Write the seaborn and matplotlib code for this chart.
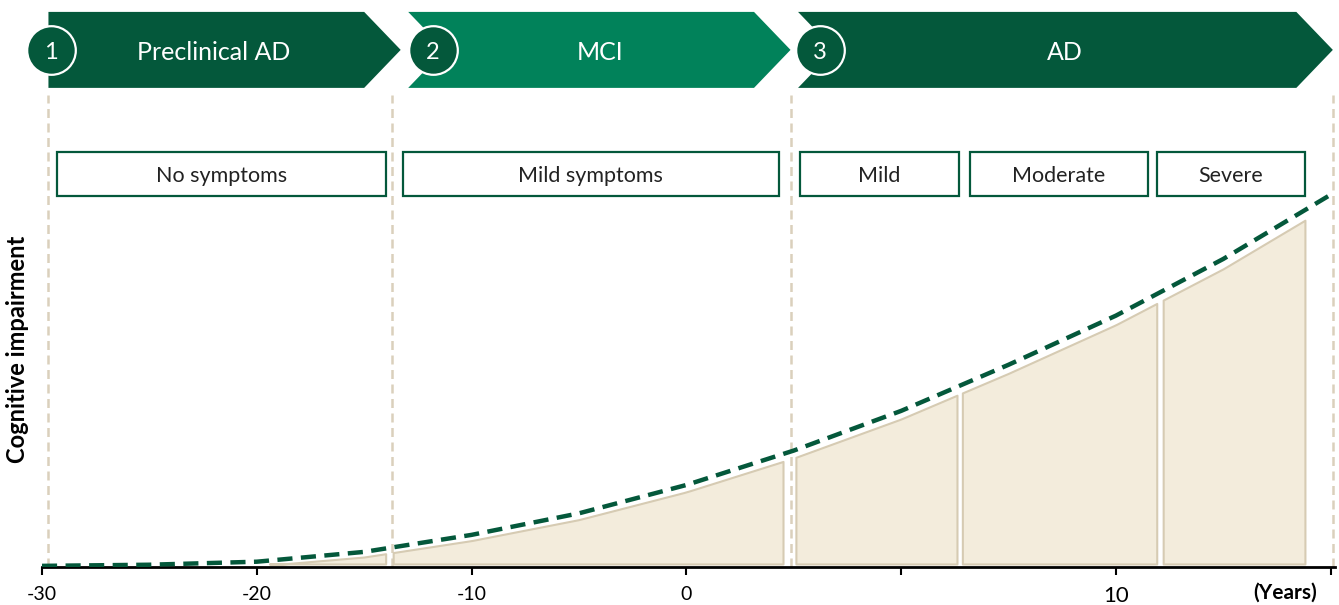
import numpy as np
import matplotlib.pyplot as plt
import seaborn as sns
from matplotlib.patches import Polygon, Rectangle

# curve (years vs. impairment, arbitrary units)
years = [-30, -25, -20, -15, -10, -5, 0, 5, 10, 15, 20, 25, 30]
impairment = [0.3, 0.6, 1.4, 4.0, 8.5, 14.2, 21.7, 30.8, 41.3, 53.5, 66.5, 81.5, 98.5]

# shaded segments under the curve
seg_left = [-19.4, -13.65, 5.1, 12.85, 22.2]
seg_right = [-14.0, 4.5, 12.6, 21.9, 28.8]

# stages (chevrons on top)
stage_names = ["Preclinical AD", "MCI", "AD"]
stage_nums = ["1", "2", "3"]
stage_start = [-29.7, -12.95, 5.2]
stage_end = [-13.3, 4.85, 30.1]
circle_x = [-29.6, -11.8, 6.2]

# symptom boxes
symptom_labels = ["No symptoms", "Mild symptoms", "Mild", "Moderate", "Severe"]
box_left = [-29.3, -13.2, 5.3, 13.2, 21.9]
box_right = [-14.0, 4.3, 12.7, 21.5, 28.8]

# vertical separators
vlines_x = [-29.7, -13.7, 4.85, 30.1]

xticks = [-30, -20, -10, 0, 10, 20, 30]
xtick_labels = ["-30", "-20", "-10", "0", "", "10", ""]

dark = "#04583B"
mid = "#01825A"
fill_c = "#F3ECDC"
edge_c = "#D6CBB3"
sep_c = "#DAD0BC"

sns.set_theme(style="ticks")
plt.rcParams['font.family'] = ['Lato', 'DejaVu Sans']

fig = plt.figure(figsize=(13.39, 6.05), dpi=100)
ax = fig.add_axes([42 / 1339, 38 / 605, 1293 / 1339, 567 / 605])
trans = ax.get_xaxis_transform()

# shaded areas under the curve, kept a little below the dashed line
slope = np.gradient(impairment, years)
for l, r in zip(seg_left, seg_right):
    xs = np.linspace(l, r, 60)
    gap = 1.0 + 0.5 * np.interp(xs, years, slope)
    top = np.clip(np.interp(xs, years, impairment) - gap, 0.8, None)
    ax.fill_between(xs, 0.8, top, facecolor=fill_c, edgecolor=edge_c, lw=1.5, zorder=2)

# separators
for v in vlines_x:
    ax.axvline(v, ymin=0, ymax=0.833, color=sep_c, lw=1.8,
               linestyle=(0, (3.6, 2.2)), zorder=1)

# dashed impairment curve
sns.lineplot(x=years, y=impairment, ax=ax, color=dark, lw=3.2,
             linestyle=(0, (3.4, 1.9)), zorder=4)

# chevrons
y_top, y_bot, y_mid = 0.979, 0.845, 0.912
d = 1.7
rad = 1.12
colors = [dark, mid, dark]
for i, (s, e) in enumerate(zip(stage_start, stage_end)):
    pts = [(s, y_top), (e - d, y_top), (e, y_mid), (e - d, y_bot), (s, y_bot)]
    if i > 0:
        pts.append((s + d, y_mid))
    ax.add_patch(Polygon(pts, closed=True, transform=trans, facecolor=colors[i],
                         edgecolor='none', clip_on=False, zorder=3))
    ax.plot(circle_x[i], y_mid, 'o', ms=35, mfc=dark, mec='white', mew=1.6,
            transform=trans, clip_on=False, zorder=5)
    ax.text(circle_x[i], y_mid - 0.004, stage_nums[i], color='white', fontsize=17,
            ha='center', va='center', transform=trans, zorder=6)
    ax.text((circle_x[i] + rad + e - d) / 2 - 0.25, y_mid - 0.005, stage_names[i],
            color='white', fontsize=18, ha='center', va='center', transform=trans,
            zorder=6)

# symptom boxes
for lab, l, r in zip(symptom_labels, box_left, box_right):
    ax.add_patch(Rectangle((l, 0.654), r - l, 0.078, transform=trans, facecolor='white',
                           edgecolor=dark, lw=1.6, zorder=3))
    ax.text((l + r) / 2, 0.689, lab, fontsize=15.5, color='#222222',
            ha='center', va='center', transform=trans, zorder=4)

ax.set_xlim(-30, 30.2)
ax.set_ylim(0, 150)
ax.set_yticks([])
ax.set_xticks(xticks)
ax.set_xticklabels(xtick_labels)
ax.tick_params(axis='x', length=6, width=1.5, direction='out', pad=8, labelsize=14,
               colors='black')
ax.get_xticklabels()[5].set_fontsize(16)
for sp in ['left', 'top', 'right']:
    ax.spines[sp].set_visible(False)
ax.spines['bottom'].set_linewidth(2)
ax.spines['bottom'].set_color('black')
ax.set_xlabel('')
ax.set_ylabel('')

ax.text(-0.0186, 0.383, "Cognitive impairment", rotation=90, ha='center', va='center',
        transform=ax.transAxes, fontsize=17, fontweight='bold', color='black')
ax.text(27.9, -0.046, "(Years)", ha='center', va='center', transform=trans,
        fontsize=15, fontweight='bold', color='black')

fig.savefig("out.png", dpi=100)
